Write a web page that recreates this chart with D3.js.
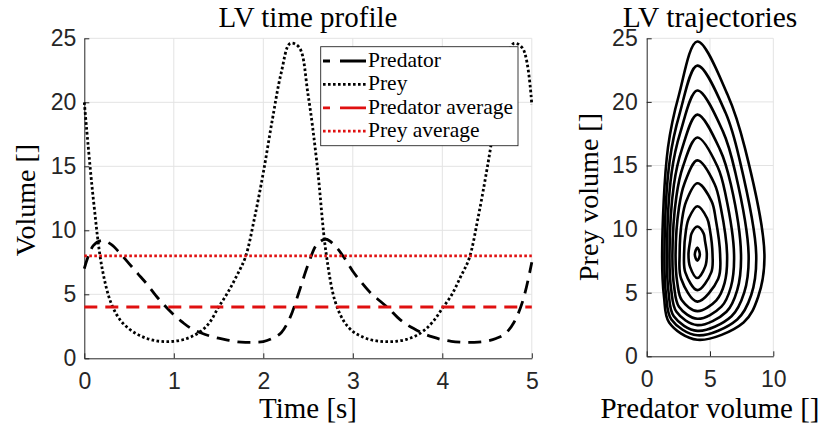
<!DOCTYPE html>
<html>
<head>
<meta charset="utf-8">
<script src="https://cdn.jsdelivr.net/npm/d3@7"></script>
<style>
  body { margin: 0; background: #fff; }
  svg { display: block; }
</style>
</head>
<body>
<div id="chart"></div>
<script>
// time profile (step 0.1 s)
var times = [0.0, 0.1, 0.2, 0.3, 0.4, 0.5, 0.6, 0.7, 0.8, 0.9,
             1.0, 1.1, 1.2, 1.3, 1.4, 1.5, 1.6, 1.7, 1.8, 1.9,
             2.0, 2.1, 2.2, 2.3, 2.4, 2.5, 2.6, 2.7, 2.8, 2.9,
             3.0, 3.1, 3.2, 3.3, 3.4, 3.5, 3.6, 3.7, 3.8, 3.9,
             4.0, 4.1, 4.2, 4.3, 4.4, 4.5, 4.6, 4.7, 4.8, 4.9, 5.0];
var predator = [7.0, 8.8, 9.2, 8.9, 8.2, 7.4, 6.6, 5.8, 4.9, 4.1,
                3.4, 2.8, 2.3, 2.0, 1.75, 1.57, 1.42, 1.3, 1.25, 1.25,
                1.3, 1.55, 2.0, 3.2, 5.2, 7.3, 8.9, 9.3, 8.8, 7.9,
                6.8, 5.9, 5.1, 4.5, 3.9, 3.2, 2.65, 2.25, 1.9, 1.65,
                1.45, 1.33, 1.27, 1.25, 1.27, 1.35, 1.55, 1.9, 2.8, 4.5, 7.5];
var prey = [20.0, 12.5, 7.0, 4.3, 3.0, 2.3, 1.85, 1.55, 1.37, 1.3,
            1.33, 1.45, 1.7, 2.1, 2.8, 4.0, 5.1, 6.4, 7.9, 10.9,
            14.5, 18.6, 22.3, 24.6, 24.3, 20.6, 15.2, 8.3, 4.5, 2.9,
            2.1, 1.7, 1.45, 1.33, 1.3, 1.34, 1.48, 1.75, 2.2, 2.9,
            3.9, 4.9, 6.3, 7.8, 11.0, 14.8, 19.0, 22.7, 24.6, 24.2, 19.8];
var predatorAverage = 4.0;
var preyAverage = 8.0;

// trajectories: [predator, prey] points around each closed orbit
var orbits = [
  [[4.0, 8.55], [4.2, 8.0], [4.0, 7.52], [3.8, 8.0]],
  [[4.0, 10.2], [4.5, 9.65], [4.6, 9.1], [4.75, 8.0], [4.62, 7.05], [4.0, 6.15], [3.42, 7.05], [3.3, 8.0], [3.44, 9.1], [3.54, 9.65]],
  [[4.0, 11.8], [4.77, 10.85], [5.0, 9.9], [5.2, 8.0], [5.1, 6.6], [4.0, 5.2], [3.05, 6.6], [2.95, 8.0], [3.1, 9.9], [3.33, 10.85]],
  [[4.0, 13.6], [5.12, 12.2], [5.45, 10.8], [5.8, 8.0], [5.65, 6.1], [4.0, 4.3], [2.72, 6.1], [2.6, 8.0], [2.8, 10.8], [3.13, 12.2]],
  [[4.0, 15.4], [5.36, 13.55], [5.85, 11.7], [6.35, 8.0], [6.15, 5.75], [5.5, 4.4], [4.0, 3.55], [2.78, 4.4], [2.42, 5.75], [2.28, 8.0], [2.55, 11.7], [2.97, 13.55]],
  [[4.0, 17.2], [5.6, 14.9], [6.25, 12.6], [6.9, 8.0], [6.65, 5.45], [5.9, 3.9], [4.0, 2.95], [2.55, 3.9], [2.17, 5.45], [2.03, 8.0], [2.35, 12.6], [2.86, 14.9]],
  [[4.0, 19.0], [5.79, 16.25], [6.65, 13.5], [7.45, 8.0], [7.15, 5.2], [6.3, 3.5], [4.0, 2.45], [2.35, 3.5], [1.94, 5.2], [1.8, 8.0], [2.15, 13.5], [2.77, 16.25]],
  [[4.0, 20.9], [6.02, 17.68], [7.0, 14.45], [8.05, 8.0], [7.7, 5.0], [6.7, 3.15], [4.0, 2.0], [2.14, 3.15], [1.73, 5.0], [1.6, 8.0], [1.97, 14.45], [2.68, 17.68]],
  [[4.0, 22.85], [6.23, 19.14], [7.35, 15.4], [8.65, 8.0], [8.25, 4.8], [7.15, 2.9], [4.0, 1.65], [1.95, 2.9], [1.53, 4.8], [1.4, 8.0], [1.82, 15.4], [2.62, 19.14]],
  [[4.0, 24.75], [6.39, 20.56], [7.75, 16.4], [9.3, 8.0], [8.8, 4.66], [7.65, 2.66], [4.0, 1.3], [1.77, 2.66], [1.37, 4.66], [1.22, 8.0], [1.68, 16.4], [2.55, 20.56]]
];

var timeTicks = [0, 1, 2, 3, 4, 5];
var volumeTicks = [0, 5, 10, 15, 20, 25];
var predTicks = [0, 5, 10];

var legendNames = ["Predator", "Prey", "Predator average", "Prey average"];

var width = 820, height = 426;
var axisColor = "#262626", gridColor = "#e3e3e3", red = "#e01010";
var serif = "'Liberation Serif', 'Times New Roman', serif";
var sans = "'Liberation Sans', Arial, sans-serif";

var svg = d3.select("#chart")
            .append("svg")
            .attr("width", width)
            .attr("height", height);

// ---------- left: time profile ----------
var x = d3.scaleLinear().domain([0, 5]).range([84.3, 531.8]);
var y = d3.scaleLinear().domain([0, 25]).range([358.3, 38.3]);

var left = svg.append("g");

// grid
left.selectAll(".vgrid")
    .data(timeTicks.slice(1))
    .join("line")
    .attr("x1", d => x(d)).attr("x2", d => x(d))
    .attr("y1", y(0)).attr("y2", y(25))
    .attr("stroke", gridColor).attr("stroke-width", 1);
left.selectAll(".hgrid")
    .data(volumeTicks.slice(1))
    .join("line")
    .attr("x1", x(0)).attr("x2", x(5))
    .attr("y1", d => y(d)).attr("y2", d => y(d))
    .attr("stroke", gridColor).attr("stroke-width", 1);

// axes
left.append("g")
    .attr("transform", "translate(0," + y(0) + ")")
    .call(d3.axisBottom(x).tickValues(timeTicks).tickSizeInner(-5).tickSizeOuter(0).tickPadding(14).tickFormat(d3.format("d")))
    .call(styleAxis);
left.append("g")
    .attr("transform", "translate(" + x(0) + ",0)")
    .call(d3.axisLeft(y).tickValues(volumeTicks).tickSizeInner(-5).tickSizeOuter(0).tickPadding(8).tickFormat(d3.format("d")))
    .call(styleAxis);

var line = d3.line()
             .x(d => x(d[0]))
             .y(d => y(d[1]))
             .curve(d3.curveCatmullRom.alpha(0.5));

var predData = times.map((t, i) => [t, predator[i]]);
var preyData = times.map((t, i) => [t, prey[i]]);

left.append("path")
    .datum(predData)
    .attr("d", line)
    .attr("fill", "none")
    .attr("stroke", "#000")
    .attr("stroke-width", 2.8)
    .attr("stroke-dasharray", "13,8");

left.append("path")
    .datum(preyData)
    .attr("d", line)
    .attr("fill", "none")
    .attr("stroke", "#000")
    .attr("stroke-width", 2.8)
    .attr("stroke-dasharray", "2.6,2.4");

left.append("line")
    .attr("x1", x(0)).attr("x2", x(5))
    .attr("y1", y(predatorAverage)).attr("y2", y(predatorAverage))
    .attr("stroke", red)
    .attr("stroke-width", 3)
    .attr("stroke-dasharray", "13,8");

left.append("line")
    .attr("x1", x(0)).attr("x2", x(5))
    .attr("y1", y(preyAverage)).attr("y2", y(preyAverage))
    .attr("stroke", red)
    .attr("stroke-width", 2.8)
    .attr("stroke-dasharray", "2.6,2.4");

// legend
var legend = left.append("g");
legend.append("rect")
    .attr("x", 320.7).attr("y", 46.7)
    .attr("width", 197.3).attr("height", 99)
    .attr("fill", "#fff")
    .attr("stroke", axisColor)
    .attr("stroke-width", 0.9);

var legendStyle = [
  {color: "#000", dash: "7,10,26"},
  {color: "#000", dash: "2.6,2.4"},
  {color: red, dash: "7,10,26"},
  {color: red, dash: "2.6,2.4"}
];

legend.selectAll(".lgline")
    .data(legendNames)
    .join("line")
    .attr("x1", 323).attr("x2", 366)
    .attr("y1", (d, i) => 61 + i * 23.4)
    .attr("y2", (d, i) => 61 + i * 23.4)
    .attr("stroke", (d, i) => legendStyle[i].color)
    .attr("stroke-width", 2.8)
    .attr("stroke-dasharray", (d, i) => legendStyle[i].dash);

legend.selectAll(".lgtext")
    .data(legendNames)
    .join("text")
    .attr("x", 368)
    .attr("y", (d, i) => 67 + i * 23.4)
    .style("font-family", serif)
    .style("font-size", "21.5px")
    .attr("fill", "#000")
    .text(d => d);

// labels
svg.append("text")
    .attr("x", 308).attr("y", 27)
    .attr("text-anchor", "middle")
    .style("font-family", serif).style("font-size", "29px")
    .text("LV time profile");
svg.append("text")
    .attr("x", 308).attr("y", 418)
    .attr("text-anchor", "middle")
    .style("font-family", serif).style("font-size", "29px")
    .text("Time [s]");
svg.append("text")
    .attr("transform", "translate(35,200) rotate(-90)")
    .attr("text-anchor", "middle")
    .style("font-family", serif).style("font-size", "28px")
    .text("Volume []");

// ---------- right: trajectories ----------
var x2 = d3.scaleLinear().domain([0, 10]).range([646.7, 773.3]);
var y2 = d3.scaleLinear().domain([0, 25]).range([356.3, 38.3]);

var right = svg.append("g");

right.selectAll(".vgrid")
    .data(predTicks.slice(1))
    .join("line")
    .attr("x1", d => x2(d)).attr("x2", d => x2(d))
    .attr("y1", y2(0)).attr("y2", y2(25))
    .attr("stroke", gridColor).attr("stroke-width", 1);
right.selectAll(".hgrid")
    .data(volumeTicks.slice(1))
    .join("line")
    .attr("x1", x2(0)).attr("x2", x2(10))
    .attr("y1", d => y2(d)).attr("y2", d => y2(d))
    .attr("stroke", gridColor).attr("stroke-width", 1);

right.append("g")
    .attr("transform", "translate(0," + y2(0) + ")")
    .call(d3.axisBottom(x2).tickValues(predTicks).tickSizeInner(-5).tickSizeOuter(0).tickPadding(14).tickFormat(d3.format("d")))
    .call(styleAxis);
right.append("g")
    .attr("transform", "translate(" + x2(0) + ",0)")
    .call(d3.axisLeft(y2).tickValues(volumeTicks).tickSizeInner(-5).tickSizeOuter(0).tickPadding(9).tickFormat(d3.format("d")))
    .call(styleAxis);

var orbitLine = d3.line()
                  .x(d => x2(d[0]))
                  .y(d => y2(d[1]))
                  .curve(d3.curveCatmullRomClosed.alpha(0.5));

right.selectAll(".orbit")
    .data(orbits)
    .join("path")
    .attr("d", orbitLine)
    .attr("fill", "none")
    .attr("stroke", "#000")
    .attr("stroke-width", 2.6);

svg.append("text")
    .attr("x", 710).attr("y", 27)
    .attr("text-anchor", "middle")
    .style("font-family", serif).style("font-size", "29.5px")
    .text("LV trajectories");
svg.append("text")
    .attr("x", 710).attr("y", 418)
    .attr("text-anchor", "middle")
    .style("font-family", serif).style("font-size", "29px")
    .text("Predator volume []");
svg.append("text")
    .attr("transform", "translate(598,197) rotate(-90)")
    .attr("text-anchor", "middle")
    .style("font-family", serif).style("font-size", "28px")
    .text("Prey volume []");

function styleAxis(g) {
    g.select(".domain").attr("stroke", axisColor).attr("stroke-width", 1);
    g.selectAll(".tick line").attr("stroke", axisColor);
    g.selectAll(".tick text")
     .attr("fill", axisColor)
     .style("font-family", sans)
     .style("font-size", "23px");
}
</script>
</body>
</html>
